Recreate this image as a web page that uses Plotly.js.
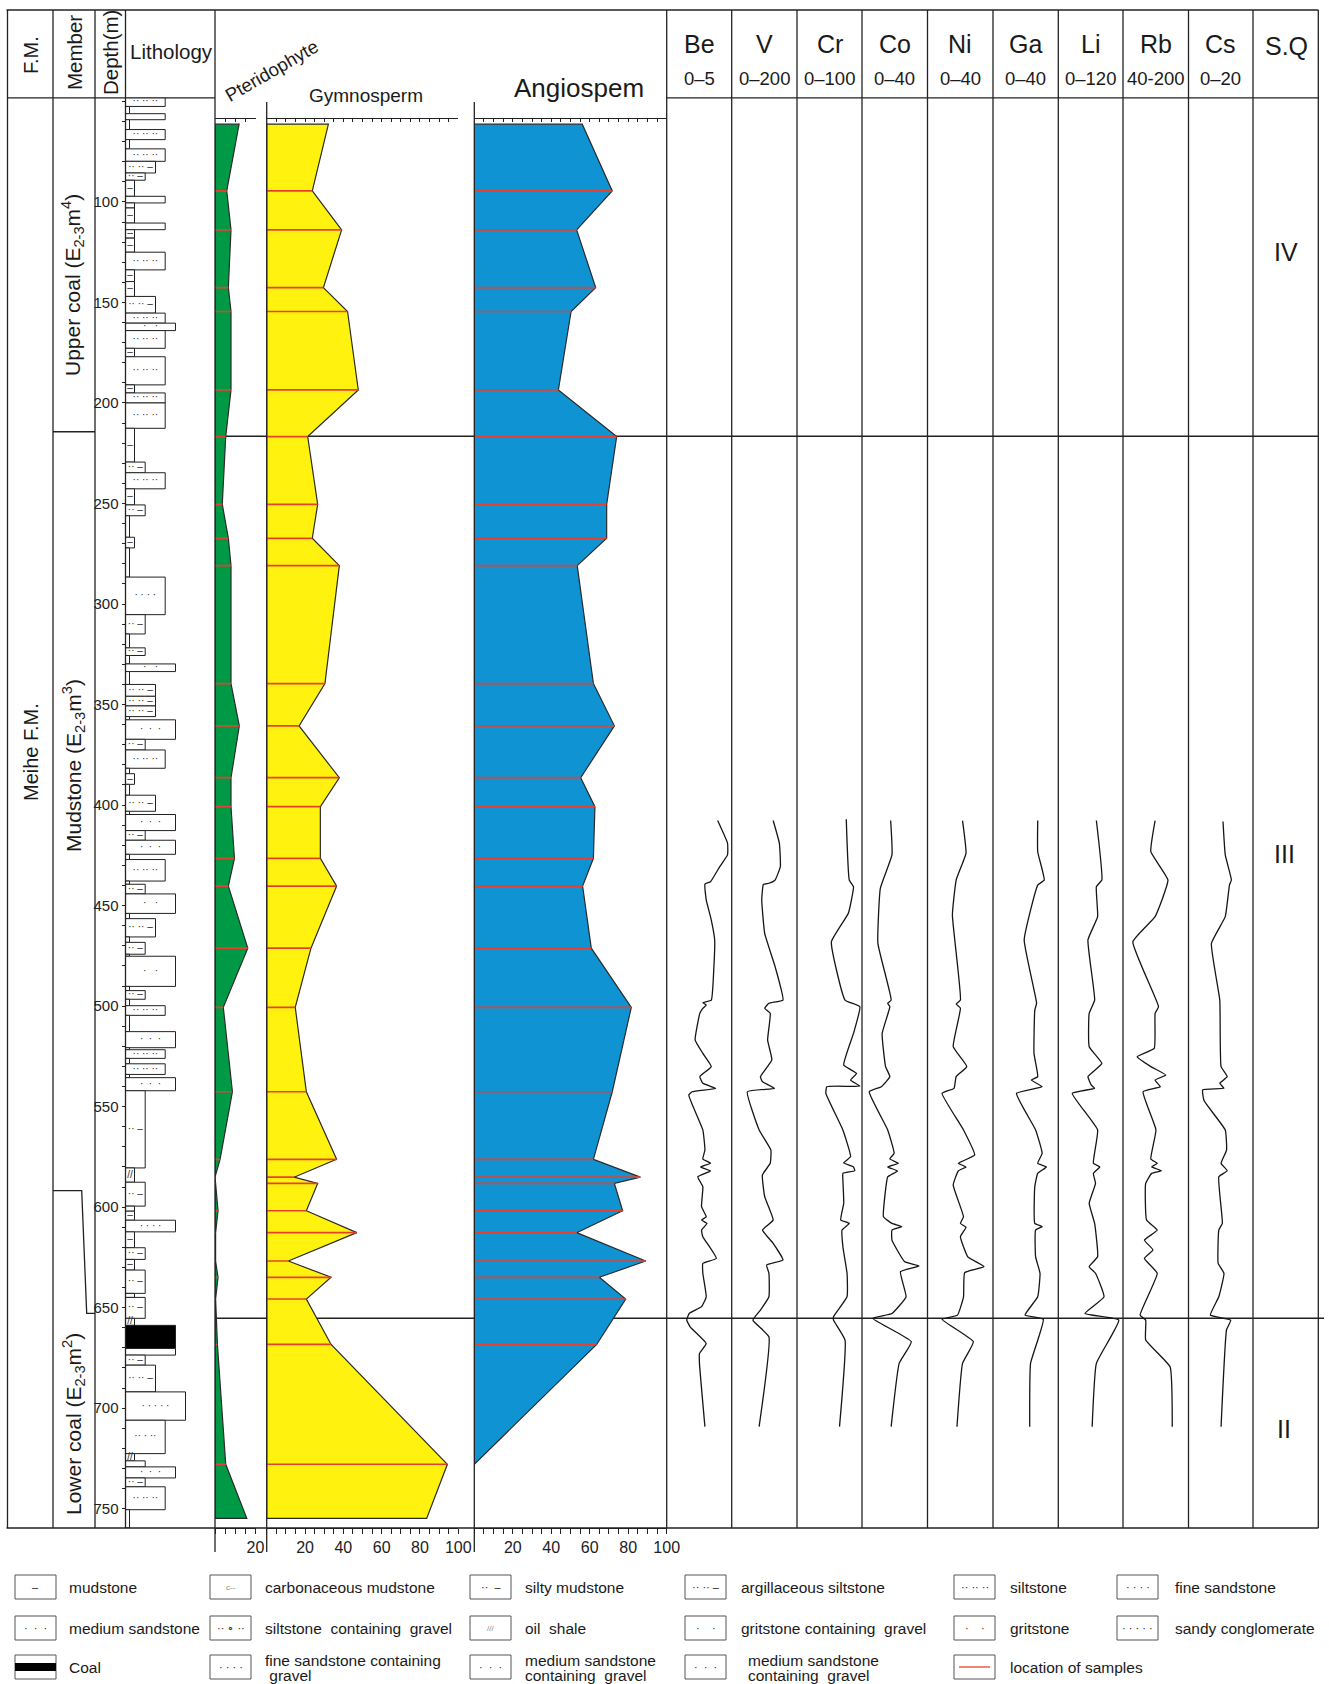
<!DOCTYPE html>
<html><head><meta charset="utf-8">
<script src="https://cdn.plot.ly/plotly-3.0.1.min.js"></script>
<style>html,body{margin:0;padding:0;background:#fff}#chart{width:1329px;height:1684px}</style>
</head><body><div id="chart"></div>
<script>
// ---------------- DATA ----------------
// Lithology: top depth (m) of each bed and its lithology code (bed ends at next top)
const litTop = [47.9,52.5,56.1,59.1,64.0,69.0,73.6,79.8,85.6,89.2,97.2,100.5,103.0,110.5,113.8,118.0,125.0,133.8,139.6,147.0,
155.3,160.3,164.0,172.8,177.0,191.0,195.0,200.0,212.6,229.4,234.7,242.7,250.7,256.1,266.8,272.1,286.6,305.3,314.9,321.8,
325.6,329.8,333.6,340.0,345.9,350.7,356.0,357.6,367.3,372.6,381.7,384.4,389.7,395.1,403.1,404.7,412.7,417.5,424.5,427.1,
437.8,439.4,444.2,453.9,456.5,465.6,468.3,474.2,475.2,490.2,492.3,496.6,499.8,504.6,512.7,520.7,521.7,526.0,528.7,534.0,
535.6,542.1,580.5,587.6,599.5,602.0,606.5,612.3,620.2,626.0,631.3,642.9,644.9,655.3,658.8,670.3,673.6,678.6,691.9,706.0,
722.6,726.2,729.2,734.7,739.1,750.5];
const litType = ['st','mn','st','mn','st','mn','st','as','sm','m','st','m','m','st','m','m','st','m','m','as',
'st','g','st','m','st','m','st','st','m','sm','st','m','sm','mn','m','mn','fs','sm','mn','sm',
'mn','g','mn','as','as','as','mn','ms','sm','st','mn','m','mn','as','mn','ms','sm','ms','mn','st',
'mn','sm','g','mn','as','mn','sm','mn','g','mn','sm','mn','st','mn','ms','mn','st','mn','st','mn',
'ms','sm','o','sm','o','m','fsg','m','sm','m','sm','o','sm','o','coal','fsg','sm','as','cl','stg',
'o','sm','ms','sm','st','mn'];
const litBottomDepth = 759.6;

// Spore-pollen percentages at sample depths
const sampleDepth = [94.5,113.9,142.6,154.5,193.5,216.7,250.4,267.3,280.9,339.6,360.6,386.4,400.8,426.5,440.3,471.2,500.6,542.6,
576.2,585.1,588.2,601.8,612.7,626.8,634.9,645.7,668.3,727.9];
const pterPct  = [5.8,7.9,6.6,7.9,7.9,5.3,3.6,6.6,7.9,7.9,12.0,7.9,7.9,9.6,6.6,16.2,4.1,8.6,2.5,0,0.3,1.5,0.3,0.3,1.5,0.3,1.2,5.3];
const gymnPct  = [23.8,39.1,29.6,42.2,47.8,21.4,26.6,23.8,37.9,30.4,16.9,37.9,28.0,28.0,36.5,23.1,14.9,20.7,36.5,14.3,26.6,20.7,47.0,11.3,33.6,20.7,33.6,94.3];
const angioPct = [71.7,53.2,63.1,50.3,43.7,74.0,68.8,68.8,53.5,61.9,72.8,55.3,62.7,61.9,56.3,60.8,81.6,71.7,61.9,86.3,72.8,77.1,53.2,89.1,65.0,78.7,63.6,0];
const pollenTopDepth = 61.3, pterTop = 11.9, gymnTop = 32.2, angioTop = 56.1;
const pollenBottomDepth = 754.8, pterBottom = 15.7, gymnBottom = 83.5;

// Trace elements
const elemNames = ['Be','V','Cr','Co','Ni','Ga','Li','Rb','Cs'];
const elemRangeText = ['0–5','0–200','0–100','0–40','0–40','0–40','0–120','40-200','0–20'];
const elemMin = [0,0,0,0,0,0,0,40,0];
const elemMax = [5,200,100,40,40,40,120,200,20];
const beDepth = [407.7,419.0,424.8,430.6,438.1,439.3,447.2,457.2,467.1,480.4,497.0,498.3,499.5,501.1,503.6,516.9,523.5,530.1,535.1,538.4,540.9,542.6,544.2,561.6,571.6,576.0,578.2,580.0,582.0,584.9,589.8,599.8,604.8,606.4,608.1,611.4,614.7,625.5,628.0,632.9,644.6,649.5,652.9,656.2,659.5,667.8,672.8,677.7,709.2];
const beVal = [3.92,4.68,4.68,4.08,3.37,2.94,3.04,3.43,3.69,3.63,3.43,2.78,3.04,2.78,2.55,2.19,2.78,3.43,2.55,2.78,3.76,1.96,1.70,2.78,2.94,2.78,3.37,2.61,3.37,2.39,2.78,2.68,3.04,2.68,3.10,2.68,2.78,3.82,2.78,2.78,3.04,2.68,1.73,1.54,1.80,3.04,2.52,2.52,2.94];
const vDepth = [407.7,419.0,430.6,437.3,438.9,439.5,447.2,463.8,480.4,497.0,498.6,501.1,503.6,516.9,526.8,535.1,537.6,540.9,542.6,561.6,571.6,578.2,584.0,594.8,606.4,611.4,618.0,626.3,628.8,632.9,644.6,651.2,656.2,664.5,709.2];
const vVal = [127,146,149,133,114,97,92,101,133,157,114,101,118,110,123,88,94,131,48,84,120,118,94,101,127,94,127,157,107,114,114,88,65,114,84];
const crDepth = [407.1,437.3,440.6,453.8,468.0,497.0,500.3,513.6,529.3,533.5,536.8,539.8,540.1,543.4,561.6,574.9,578.0,580.0,581.9,583.2,586.5,598.1,606.4,608.1,611.4,619.7,632.9,644.6,654.5,656.2,666.1,709.2];
const crVal = [75.8,80.4,86.9,79.0,52.9,73.9,96.7,86.9,71.9,91.5,82.4,96.7,45.8,44.4,70.6,82.4,71.9,86.9,88.9,70.6,70.6,71.9,67.3,80.4,69.3,70.6,77.0,77.0,56.2,56.2,73.9,65.4];
const coDepth = [407.7,424.8,441.4,468.8,497.0,498.6,500.3,513.6,530.1,535.1,540.1,542.6,561.6,573.2,576.0,578.2,580.0,582.0,584.9,588.2,604.8,608.1,609.7,611.4,616.4,627.2,629.3,632.1,644.6,652.9,655.3,666.9,677.7,709.2];
const coVal = [17.5,18.3,11.2,9.7,17.8,15.7,17.0,12.3,14.4,17.0,11.8,4.4,15.7,19.6,17.0,22.2,15.7,21.7,15.7,14.9,13.1,18.3,24.3,18.3,18.3,26.1,34.8,23.5,26.9,18.3,6.5,30.1,22.7,17.8];
const niDepth = [407.7,424.0,437.3,454.7,497.0,499.0,501.0,520.2,530.1,535.1,540.9,543.4,561.6,574.1,578.2,580.0,582.0,589.0,604.8,608.1,610.0,614.7,624.7,629.6,632.6,644.6,653.7,655.8,666.9,677.7,709.2];
const niVal = [21.4,23.5,17.5,15.2,20.1,17.5,20.1,15.7,24.0,17.5,16.2,8.9,22.0,28.8,18.8,23.5,18.8,15.7,22.0,20.1,23.5,20.1,24.6,34.5,22.7,22.0,18.3,8.9,28.0,21.4,18.0];
const gaDepth = [407.7,423.2,437.3,439.8,467.1,498.6,502.0,523.5,535.1,536.8,540.1,543.4,561.6,573.2,578.2,580.0,583.2,589.8,608.1,609.7,611.4,624.7,632.9,644.6,653.7,655.8,677.7,709.2];
const gaVal = [27.4,27.4,31.4,27.4,19.1,26.7,25.6,25.1,27.4,23.5,30.1,14.4,26.1,30.1,27.4,32.7,27.4,25.6,25.6,30.1,26.1,26.1,28.8,27.4,19.6,30.8,23.0,22.5];
const liDepth = [407.7,437.3,440.6,455.5,467.1,497.0,503.6,520.2,528.5,535.1,539.3,540.9,543.4,561.6,578.2,580.0,583.2,588.2,598.1,608.1,624.7,629.6,632.9,644.6,652.9,656.2,677.7,709.2];
const liVal = [70.6,80.8,70.6,72.9,55.0,67.4,57.3,57.3,80.8,55.0,61.2,67.4,25.9,72.9,65.1,76.9,65.1,69.0,57.3,67.4,72.9,57.3,69.0,84.7,49.4,112.2,70.6,62.8];
const rbDepth = [407.7,423.2,437.3,455.5,468.0,500.3,503.6,521.0,525.2,530.1,534.3,536.8,540.1,542.6,561.6,576.0,578.2,580.0,581.9,583.2,588.2,606.4,611.4,616.4,621.3,625.5,632.9,653.7,656.2,666.1,679.4,709.2];
const rbVal = [118.4,108.0,149.8,118.4,64.0,126.7,118.4,116.3,74.6,108.0,144.6,118.4,131.0,89.1,120.5,108.0,123.7,110.0,134.1,110.0,95.4,97.5,123.7,92.3,113.2,92.3,123.7,81.8,95.4,95.4,155.0,160.3];
const csDepth = [408.2,424.8,437.3,439.8,455.5,468.8,497.0,530.1,535.1,538.4,540.9,541.7,547.0,561.6,571.6,578.2,581.9,584.9,608.1,611.4,628.0,632.9,644.6,653.7,656.2,661.0,709.2];
const csVal = [10.7,11.4,13.3,12.7,11.4,7.1,9.7,10.1,12.0,9.7,11.0,4.4,4.8,11.4,11.8,10.1,12.0,9.4,10.5,9.4,9.2,11.0,9.4,6.8,13.1,11.8,10.1];
const elemDepths = [beDepth,vDepth,crDepth,coDepth,niDepth,gaDepth,liDepth,rbDepth,csDepth];
const elemVals = [beVal,vVal,crVal,coVal,niVal,gaVal,liVal,rbVal,csVal];

// Stratigraphy
const seqBoundaryDepth = [216.6, 655.3];
const memberUpperBoundary = 214.3;
const memberStepTop = 591.8, memberStepBottom = 652.8;
const seqLabels = ['IV','III','II'];
const depthLabelTicks = [100,150,200,250,300,350,400,450,500,550,600,650,700,750];

// ---------------- LAYOUT HELPERS ----------------
const W = 1329, H = 1684;
const FONT = 'Liberation Sans, Arial, Helvetica, sans-serif';
const px = x => x / W, py = y => 1 - y / H;
const TOP = 10, HDR = 97.8, BOT = 1528;
const C = {L:7.5, fm:53, mem:95, lith:125.5, pter:215, pterR:255.5, gym:266.7, gymR:458.3, ang:474.3, angR:666.7, R:1318.3};
const elemL = [666.7,731.7,797,862,927.5,993,1058.3,1123,1188.5,1253];
const grainWidth = {mn:4, m:9, o:9, sm:19.7, as:30, st:39.7, stg:39.7, fs:39.7, ms:50, g:50, fsg:50, coal:50, cl:60};
const NB = '\u00a0';
const sym = {m:'–', o:'//', sm:'··'+NB+'–', as:'··'+NB+'··'+NB+'–', st:'··'+NB+'··'+NB+'··', stg:'··'+NB+'·'+NB+'··',
  fs:'·'+NB+'·'+NB+'·'+NB+'·', ms:'·'+NB+NB+'·'+NB+NB+'·', g:'·'+NB+NB+NB+'·', fsg:'·'+NB+'·'+NB+'·'+NB+'·',
  cl:'·'+NB+'·'+NB+'·'+NB+'·'+NB+'·', mn:'', coal:''};

const traces = [];

// Lithology bars
const litBottom = litTop.map((t,i)=> i < litTop.length-1 ? litTop[i+1] : litBottomDepth);
traces.push({type:'bar', orientation:'h', xaxis:'x', yaxis:'y',
  y: litTop.map((t,i)=> (t+litBottom[i])/2), width: litTop.map((t,i)=> litBottom[i]-t),
  x: litType.map(t=>grainWidth[t]), base: 0,
  marker:{color: litType.map(t=> t==='coal' ? '#000' : '#fff'), line:{color:'#222', width:1}},
  hoverinfo:'skip'});
const symX=[], symY=[], symT=[];
litType.forEach((t,i)=>{ if (sym[t] && litBottom[i]-litTop[i] >= 3.5){ symX.push(grainWidth[t]/2); symY.push((litTop[i]+litBottom[i])/2); symT.push(sym[t]); }});
traces.push({type:'scatter', mode:'text', xaxis:'x', yaxis:'y', x:symX, y:symY, text:symT,
  textfont:{family:FONT, size:10, color:'#2a2a2a'}, hoverinfo:'skip'});

// Pollen polygons
function polygon(topV, vals, botD, botV){
  const xs=[0, topV], ys=[pollenTopDepth, pollenTopDepth];
  vals.forEach((v,i)=>{ xs.push(v); ys.push(sampleDepth[i]); });
  if (botD !== null){ xs.push(botV); ys.push(botD); xs.push(0); ys.push(botD); }
  else { xs.push(0); ys.push(sampleDepth[sampleDepth.length-1]); }
  xs.push(0); ys.push(pollenTopDepth);
  return {xs, ys};
}
function sampleLines(vals){
  const xs=[], ys=[];
  vals.forEach((v,i)=>{ if (v>0){ xs.push(0, v, null); ys.push(sampleDepth[i], sampleDepth[i], null); }});
  return {xs, ys};
}
const pollenDefs = [
  {ax:'x2', p:polygon(pterTop, pterPct, pollenBottomDepth, pterBottom), s:sampleLines(pterPct), color:'#009a46'},
  {ax:'x3', p:polygon(gymnTop, gymnPct, pollenBottomDepth, gymnBottom), s:sampleLines(gymnPct), color:'#fff20f'},
  {ax:'x4', p:polygon(angioTop, angioPct, null, null), s:sampleLines(angioPct), color:'#0f93d2'}
];
pollenDefs.forEach(d=>{
  traces.push({type:'scatter', mode:'lines', xaxis:d.ax, yaxis:'y', x:d.p.xs, y:d.p.ys, fill:'toself',
    fillcolor:d.color, line:{color:'#2a2a2a', width:1.2}, hoverinfo:'skip'});
  traces.push({type:'scatter', mode:'lines', xaxis:d.ax, yaxis:'y', x:d.s.xs, y:d.s.ys,
    line:{color:'#e8402c', width:1.7}, connectgaps:false, hoverinfo:'skip'});
});
// dummy traces so the top pollen axes are drawn
['x14','x15','x16'].forEach(a=> traces.push({type:'scatter', mode:'markers', xaxis:a, yaxis:'y', x:[0], y:[700],
  marker:{opacity:0}, hoverinfo:'skip'}));

// Element curves
elemNames.forEach((n,i)=>{
  traces.push({type:'scatter', mode:'lines', xaxis:'x'+(5+i), yaxis:'y', x:elemVals[i], y:elemDepths[i],
    line:{color:'#151515', width:1.3, shape:'spline', smoothing:0.35}, hoverinfo:'skip'});
});

// ---------------- LAYOUT ----------------
const yMinor=[]; for (let v=50; v<=750; v+=10){ if (!depthLabelTicks.includes(v)) yMinor.push(v); }

const layout = {
  width:W, height:H, margin:{l:0,r:0,t:0,b:0}, paper_bgcolor:'#fff', plot_bgcolor:'rgba(0,0,0,0)',
  showlegend:false, font:{family:FONT, color:'#1a1a1a'},
  yaxis:{domain:[py(BOT), py(HDR)], range:[litBottomDepth, 48.2], anchor:'free', position:px(C.lith),
    showgrid:false, zeroline:false, showline:false, ticks:'outside', ticklen:4, tickwidth:1, tickcolor:'#222',
    tickmode:'array', tickvals:depthLabelTicks, ticktext:depthLabelTicks.map(String), tickfont:{size:15, color:'#222'},
    ticklabelstandoff:0,
    minor:{tickmode:'array', tickvals:yMinor, ticks:'outside', ticklen:4, tickwidth:1, tickcolor:'#222', showgrid:false}},
  xaxis:{domain:[px(C.lith), px(C.pter)], range:[0, C.pter-C.lith], visible:false, anchor:'y'}
};
function pollenAxis(l, r, max, labelVals){
  const mv=[]; for (let v=0; v<=max; v+=5){ if (!labelVals.includes(v)) mv.push(v); }
  return {domain:[px(l), px(r)], range:[0,max], anchor:'y', showline:true, linecolor:'#222', linewidth:1.2,
    ticks:'outside', ticklen:5, tickwidth:1, tickcolor:'#222', tickmode:'array', tickvals:labelVals, ticktext:labelVals.map(String),
    tickfont:{size:16, color:'#222'}, showgrid:false, zeroline:false,
    minor:{tickmode:'array', tickvals:mv, ticks:'outside', ticklen:5, tickwidth:1, tickcolor:'#222', showgrid:false}};
}
function topAxis(over, max){
  const tv=[]; for (let v=0; v<=max; v+=5) tv.push(v);
  return {overlaying:over, side:'top', anchor:'free', position:py(117.7), range:[0,max], showline:true,
    linecolor:'#222', linewidth:1.2, ticks:'inside', ticklen:3, tickwidth:1, tickcolor:'#222', tickmode:'array',
    tickvals:tv, showticklabels:false, showgrid:false, zeroline:false};
}
layout.xaxis2 = pollenAxis(C.pter, C.pterR, 20, [20]);
layout.xaxis3 = pollenAxis(C.gym, C.gymR, 100, [20,40,60,80,100]);
layout.xaxis4 = pollenAxis(C.ang, C.angR, 100, [20,40,60,80,100]);
layout.xaxis14 = topAxis('x2', 20);
layout.xaxis15 = topAxis('x3', 100);
layout.xaxis16 = topAxis('x4', 100);
elemNames.forEach((n,i)=>{
  layout['xaxis'+(5+i)] = {domain:[px(elemL[i]), px(elemL[i+1])], range:[elemMin[i], elemMax[i]], visible:false, anchor:'y'};
});

// Shapes
const LC = '#222';
const shapes = [];
function pline(x0,y0,x1,y1,w,color,layer){ shapes.push({type:'line', xref:'paper', yref:'paper', x0:px(x0), y0:py(y0), x1:px(x1), y1:py(y1), line:{color:color||LC, width:w||1.3}, layer:layer||'above'}); }
// frame verticals
[C.L, C.fm, C.mem, C.lith].forEach(x=> pline(x, TOP, x, BOT));
pline(C.pter, TOP, C.pter, 1552);
pline(C.gym, 102, C.gym, 1552);
pline(C.ang, 102, C.ang, 1552);
elemL.forEach(x=> pline(x, TOP, x, BOT));
pline(C.R, TOP, C.R, BOT);
// horizontals
pline(C.L-1, TOP, C.R, TOP);
pline(C.L, HDR, C.pter, HDR);
pline(C.angR, HDR, C.R, HDR);
pline(C.L-1, BOT, C.R, BOT);
// sequence boundaries (below fills)
seqBoundaryDepth.forEach((d,i)=> shapes.push({type:'line', xref:'paper', yref:'y', x0:px(C.pter), x1:px(i===0 ? C.R : 1324),
  y0:d, y1:d, line:{color:LC, width:1.5}, layer:'below'}));
// member boundaries
shapes.push({type:'line', xref:'paper', yref:'y', x0:px(C.fm), x1:px(C.mem), y0:memberUpperBoundary, y1:memberUpperBoundary, line:{color:LC, width:1.3}});
shapes.push({type:'path', xref:'paper', yref:'y',
  path:`M ${px(C.fm)} ${memberStepTop} L ${px(81.7)} ${memberStepTop} L ${px(86.7)} ${memberStepBottom} L ${px(C.mem)} ${memberStepBottom}`,
  line:{color:LC, width:1.3}});

// Annotations
const ann = [];
function txt(x, y, text, size, opts){ ann.push(Object.assign({xref:'paper', yref:'paper', x:px(x), y:py(y), text, showarrow:false,
  font:{family:FONT, size, color:'#1a1a1a'}, xanchor:'center', yanchor:'middle'}, opts||{})); }
txt(31, 55, 'F.M.', 20, {textangle:-90});
txt(74, 53, 'Member', 20.5, {textangle:-90});
txt(110, 53, 'Depth(m)', 20.5, {textangle:-90});
txt(171, 51, 'Lithology', 20.5);
txt(272, 71, 'Pteridophyte', 18.5, {textangle:-30});
txt(366, 95, 'Gymnosperm', 19);
txt(579, 88, 'Angiospem', 26);
elemNames.forEach((n,i)=>{ const cx=(elemL[i]+elemL[i+1])/2; txt(cx, 44, n, 25); txt(cx, 79, elemRangeText[i], 18.5); });
txt(1286, 46, 'S.Q', 25);
txt(31, 752, 'Meihe F.M.', 20, {textangle:-90});
txt(73, 285, 'Upper coal (E<sub>2-3</sub>m<sup>4</sup>)', 21, {textangle:-90});
txt(73, 766, 'Mudstone (E<sub>2-3</sub>m<sup>3</sup>)', 21, {textangle:-90});
txt(73, 1424, 'Lower coal (E<sub>2-3</sub>m<sup>2</sup>)', 21, {textangle:-90});
txt(1286, 252, seqLabels[0], 25);
txt(1284, 854, seqLabels[1], 25);
txt(1284, 1429, seqLabels[2], 25);

// Legend
const legBoxX = [15, 210, 470, 685, 954, 1117];
const legTextX = [67, 263, 523, 739, 1008, 1173];
const legRowY = [1587, 1628, 1667];
const legendItems = [
 {r:0,c:0,label:'mudstone', s:'–'},
 {r:0,c:1,label:'carbonaceous mudstone', s:'c‐‐', small:true},
 {r:0,c:2,label:'silty mudstone', s:'··'+NB+NB+'–'},
 {r:0,c:3,label:'argillaceous siltstone', s:'··'+NB+'··'+NB+'–'},
 {r:0,c:4,label:'siltstone', s:'··'+NB+'··'+NB+'··'},
 {r:0,c:5,label:'fine sandstone', s:'·'+NB+'·'+NB+'·'+NB+'·'},
 {r:1,c:0,label:'medium sandstone', s:'·'+NB+NB+'·'+NB+NB+'·'},
 {r:1,c:1,label:'siltstone'+NB+NB+'containing'+NB+NB+'gravel', s:'··'+NB+'∘'+NB+'··'},
 {r:1,c:2,label:'oil'+NB+NB+'shale', s:'///', small:true},
 {r:1,c:3,label:'gritstone containing'+NB+NB+'gravel', s:'·'+NB+NB+NB+NB+'·'},
 {r:1,c:4,label:'gritstone', s:'·'+NB+NB+NB+NB+'·'},
 {r:1,c:5,label:'sandy conglomerate', s:'·'+NB+'·'+NB+'·'+NB+'·'+NB+'·'},
 {r:2,c:0,label:'Coal', special:'coal'},
 {r:2,c:1,label:'fine sandstone containing', label2:NB+'gravel', s:'·'+NB+'·'+NB+'·'+NB+'·'},
 {r:2,c:2,label:'medium sandstone', label2:'containing'+NB+NB+'gravel', s:'·'+NB+NB+'·'+NB+NB+'·'},
 {r:2,c:3,label:'medium sandstone', label2:'containing'+NB+NB+'gravel', s:'·'+NB+NB+'·'+NB+NB+'·', tx:746},
 {r:2,c:4,label:'location of samples', special:'red'}
];
legendItems.forEach(it=>{
  const x0 = legBoxX[it.c], yc = legRowY[it.r], bw = 41, bh = 24;
  shapes.push({type:'rect', xref:'paper', yref:'paper', x0:px(x0), x1:px(x0+bw), y0:py(yc+bh/2), y1:py(yc-bh/2),
    line:{color:'#555', width:1}, fillcolor:'#fff'});
  if (it.special==='coal'){
    shapes.push({type:'rect', xref:'paper', yref:'paper', x0:px(x0), x1:px(x0+bw), y0:py(yc+4), y1:py(yc-4),
      line:{width:0}, fillcolor:'#000'});
  } else if (it.special==='red'){
    pline(x0+5, yc, x0+bw-5, yc, 1.3, '#e8402c');
  } else {
    txt(x0+bw/2, yc, it.s, it.small ? 8 : 11, {font:{family:FONT, size: it.small ? 8 : 11, color: it.small ? '#888' : '#222'}});
  }
  const tx = it.tx || legTextX[it.c];
  if (it.label2){
    txt(tx, yc-7, it.label, 15.5, {xanchor:'left'});
    txt(tx, yc+8.5, it.label2, 15.5, {xanchor:'left'});
  } else {
    txt(tx, yc, it.label, 15.5, {xanchor:'left'});
  }
});

layout.shapes = shapes;
layout.annotations = ann;

Plotly.newPlot('chart', traces, layout, {staticPlot:true, displayModeBar:false});
</script></body></html>
